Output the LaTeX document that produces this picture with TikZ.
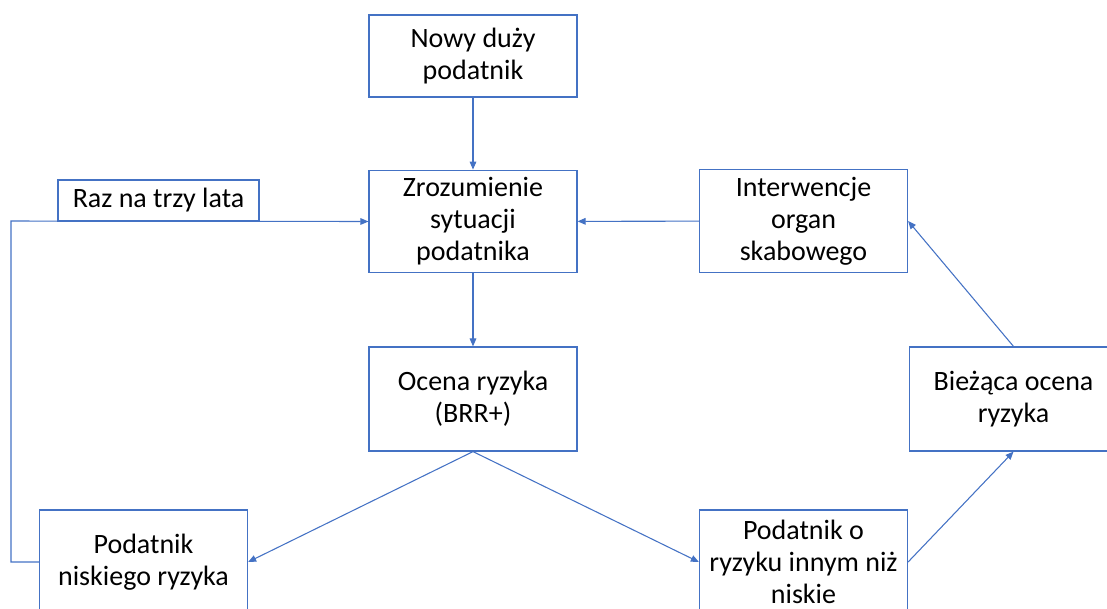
\documentclass[tikz,border=0pt]{standalone}
\usepackage{fontspec}
\setmainfont{Carlito}
\usetikzlibrary{arrows.meta}
\definecolor{boxblue}{RGB}{68,114,196}
\tikzset{
  procbox/.style={draw=boxblue, line width=0.9pt, fill=white, align=center,
    minimum width=156pt, minimum height=77pt, inner sep=2pt,
    font=\fontsize{21}{24}\selectfont},
  flow/.style={draw=boxblue, line width=0.8pt, -{Triangle[length=6pt,width=5pt]}}
}
\begin{document}
\begin{tikzpicture}[x=0.75pt,y=0.75pt,yscale=-1,xscale=1]
\useasboundingbox (0,0) rectangle (1107,608);
\clip (0,0) rectangle (1107,608);

%Boxes
\node[procbox, minimum height=61.5pt] (nowy) at (473,56) {Nowy duży\\podatnik};
\node[procbox] (zroz) at (473,221.5) {Zrozumienie\\sytuacji\\podatnika};
\node[procbox, minimum height=78pt] (ocena) at (473,399) {Ocena ryzyka\\(BRR+)};
\node[procbox] (interw) at (803.5,221) {Interwencje\\organ\\skabowego};
\node[procbox, minimum height=78pt] (biez) at (1013.5,399) {Bieżąca ocena\\ryzyka};
\node[procbox, minimum height=78pt] (niski) at (143.5,562) {Podatnik\\niskiego ryzyka};
\node[procbox, minimum height=78pt] (inny) at (803.5,562) {Podatnik o\\ryzyku innym niż\\niskie};
\coordinate (petla) at (11,221);

%Connectors
\draw[flow] (nowy) -- (zroz);
\draw[flow] (zroz) -- (ocena);
\draw[flow] (interw) -- (zroz);
\draw[flow] (ocena.south) -- (niski.east);
\draw[flow] (ocena.south) -- (inny.west);
\draw[flow] (inny.east) -- (biez.south);
\draw[flow] (biez.north) -- (interw.east);
\draw[flow] (niski.west) -| (petla) -- (zroz.west);

%Label on the loop
\node[procbox, minimum width=150.75pt, minimum height=30.75pt] (raz) at (158.5,200.5) {Raz na trzy lata};

\end{tikzpicture}
\end{document}
